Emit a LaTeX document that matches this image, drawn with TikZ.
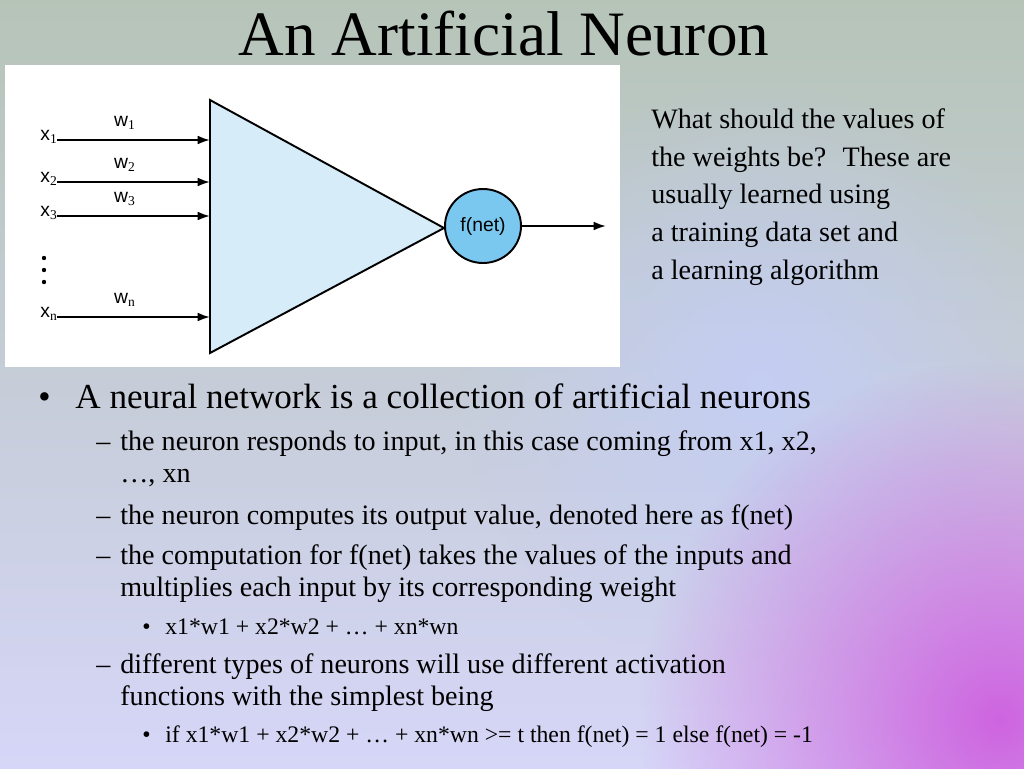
\documentclass[tikz,border=0pt]{standalone}
\usepackage{fontspec}
\setmainfont{Liberation Serif}
\newfontfamily\diagfont{Liberation Sans}
\usetikzlibrary{arrows.meta}
\usetikzlibrary{fadings}
\usetikzlibrary{shapes.geometric}
\usetikzlibrary{positioning}
\definecolor{bgtop}{RGB}{182,196,184}
\definecolor{bgbot}{RGB}{214,214,248}
\definecolor{bgblue}{RGB}{196,206,250}
\definecolor{bgpink}{RGB}{206,100,224}
\definecolor{trifill}{RGB}{214,236,248}
\definecolor{circfill}{RGB}{122,200,240}
\tikzfading[name=softglow, inner color=transparent!0, outer color=transparent!100]

\begin{document}
\begin{tikzpicture}[x=0.02cm, y=-0.02cm]
\tikzstyle{inp}=[-{Latex[length=7pt,width=5pt]}, line width=1.1pt]
\tikzstyle{lbl}=[font=\diagfont\fontsize{11}{13}\selectfont, inner sep=0pt]
\tikzstyle{txt}=[anchor=base west, inner sep=0pt]
\tikzstyle{lvla}=[txt, font=\fontsize{20}{24}\selectfont]
\tikzstyle{lvlb}=[txt, font=\fontsize{16}{19}\selectfont]
\tikzstyle{lvlc}=[txt, font=\fontsize{13.5}{16}\selectfont]
\useasboundingbox (0,0) rectangle (1024,768);
% background
\shade[top color=bgtop, bottom color=bgbot] (0,0) rectangle (1024,768);
\fill[bgblue, path fading=softglow, opacity=0.8] (760,380) circle (300);
\fill[bgpink, path fading=softglow] (1000,720) circle (360);
\node[anchor=base, font=\fontsize{36}{40}\selectfont, inner sep=0pt] (title) at (504,55) {An Artificial Neuron};
% diagram
\fill[white] (5,65) rectangle (620,367);
\draw[line width=1.1pt, fill=trifill] (210,100) coordinate (tt) -- (444,228) coordinate (apex) -- (210,353) coordinate (tb) -- cycle;
\node[draw, line width=1.1pt, ellipse, fill=circfill, inner sep=0pt,
  minimum width=1.52cm, minimum height=1.48cm, lbl] (fnet) at (483,226) {f(net)};
\coordinate (out) at (606,226);
\draw[inp] (fnet.east) -- (out);
\foreach \y/\s in {140/1, 182/2, 216/3, 317/n}{
  \coordinate (s\s) at (57,\y);
  \coordinate (e\s) at (210,\y);
  \node[lbl, anchor=east] (x\s) at (58,\y-3) {x$_{\mathrm{\s}}$};
  \node[lbl, anchor=south] (w\s) at (125,\y-10) {w$_{\mathrm{\s}}$};
  \draw[inp] (s\s) -- (e\s);
}
\foreach \y in {258,270,282} \fill (44,\y) circle (2.2);
% right text
\foreach \y/\t in {128/What should the values of, 166/the weights be?~ These are, 203/usually learned using, 241/a training data set and, 279/a learning algorithm}
  \node[lvlb] at (651,\y) {\t};
% bullets
\node[lvla] (b1) at (38,408) {•};
\node[lvla] (t1) at (75,408) {A neural network is a collection of artificial neurons};
\foreach \y/\t in {450/{the neuron responds to input, in this case coming from x1, x2,}, 524/{the neuron computes its output value, denoted here as f(net)}, 564/{the computation for f(net) takes the values of the inputs and}, 673/{different types of neurons will use different activation}}{
  \node[lvlb] at (96,\y) {–};
  \node[lvlb] at (120,\y) {\t};
}
\foreach \y/\t in {482/{…, xn}, 596/{multiplies each input by its corresponding weight}, 705/{functions with the simplest being}}
  \node[lvlb] at (120,\y) {\t};
\foreach \y/\t in {634/{x1*w1 + x2*w2 + … + xn*wn}, 742/{if x1*w1 + x2*w2 + … + xn*wn >= t then f(net) = 1 else f(net) = -1}}{
  \node[lvlc] at (142,\y) {•};
  \node[lvlc] at (165,\y) {\t};
}
\end{tikzpicture}
\end{document}
